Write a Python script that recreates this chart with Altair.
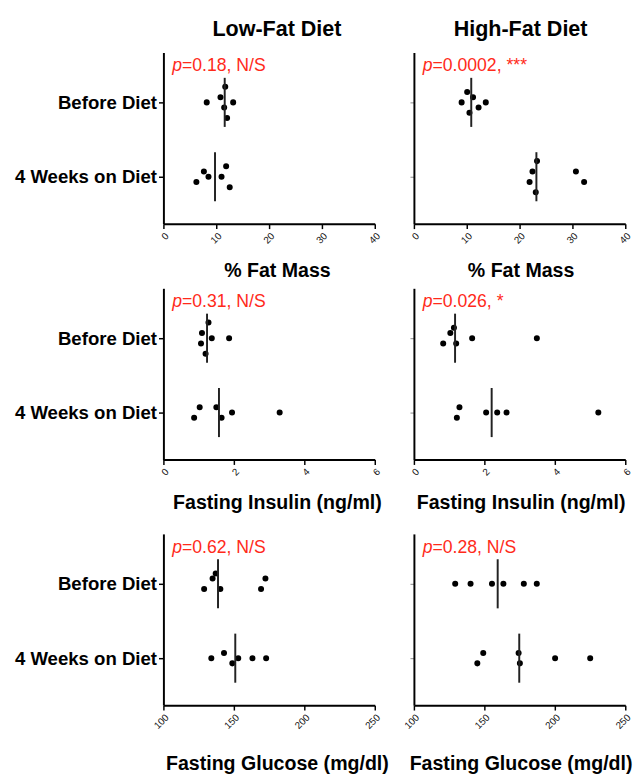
import altair as alt
import pandas as pd

groups = ["Before Diet", "4 Weeks on Diet"]
diets = ["Low-Fat Diet", "High-Fat Diet"]
measures = ["% Fat Mass", "Fasting Insulin (ng/ml)", "Fasting Glucose (mg/dl)"]
x_domains = [[0, 40], [0, 6], [100, 250]]
x_ticks = [[0, 10, 20, 30, 40], [0, 2, 4, 6], [100, 150, 200, 250]]
p_rest = [["=0.18, N/S", "=0.0002, ***"],
          ["=0.31, N/S", "=0.026, *"],
          ["=0.62, N/S", "=0.28, N/S"]]

# % Fat Mass
lf_fat_before = [11.7, 10.8, 8.2, 13.2, 11.5, 12.05]
lf_fat_before_lvl = [-3, -1, 0, 0, 1, 3]
lf_fat_after = [7.66, 11.87, 8.53, 11.0, 6.24, 12.55]
lf_fat_after_lvl = [-1, -2, 0, 0, 1, 2]
hf_fat_before = [9.03, 10.08, 11.19, 10.51, 12.24, 13.6]
hf_fat_before_lvl = [0, -2, -1, 2, 1, 0]
hf_fat_after = [23.3, 22.44, 21.89, 23.06, 30.66, 32.21]
hf_fat_after_lvl = [-3, -1, 1, 3, -1, 1]

# Fasting insulin
lf_ins_before = [1.28, 1.095, 1.373, 1.865, 1.067, 1.197]
lf_ins_before_lvl = [-3, -1, 0, 0, 1, 3]
lf_ins_after = [1.03, 1.503, 0.872, 1.651, 1.948, 3.30]
lf_ins_after_lvl = [-1, -1, 1, 1, 0, 0]
hf_ins_before = [1.136, 1.034, 1.653, 3.49, 0.831, 1.20]
hf_ins_before_lvl = [-2, -1, 0, 0, 1, 1]
hf_ins_after = [1.293, 1.219, 2.05, 2.364, 2.63, 5.235]
hf_ins_after_lvl = [-1, 1, 0, 0, 0, 0]

# Fasting glucose
lf_glu_before = [137.1, 134.9, 128.9, 140.4, 172.4, 169.3]
lf_glu_before_lvl = [-2, -1, 1, 1, -1, 1]
lf_glu_after = [134.0, 143.0, 148.9, 153.1, 163.2, 172.9]
lf_glu_after_lvl = [0, -1, 1, 0, 0, 0]
hf_glu_before = [129.3, 140.2, 155.4, 163.5, 178.0, 187.2]
hf_glu_before_lvl = [0, 0, 0, 0, 0, 0]
hf_glu_after = [149.2, 145.0, 174.3, 175.2, 200.2, 225.1]
hf_glu_after_lvl = [-1, 1, -1, 1, 0, 0]

series = [
    [(lf_fat_before, lf_fat_before_lvl, lf_fat_after, lf_fat_after_lvl),
     (hf_fat_before, hf_fat_before_lvl, hf_fat_after, hf_fat_after_lvl)],
    [(lf_ins_before, lf_ins_before_lvl, lf_ins_after, lf_ins_after_lvl),
     (hf_ins_before, hf_ins_before_lvl, hf_ins_after, hf_ins_after_lvl)],
    [(lf_glu_before, lf_glu_before_lvl, lf_glu_after, lf_glu_after_lvl),
     (hf_glu_before, hf_glu_before_lvl, hf_glu_after, hf_glu_after_lvl)],
]

W, H = 216, 175
FONT = "Liberation Sans"
RED = "#ff2a1a"
Y_DOMAIN = [0.368, 2.671]
STEP = 0.07
HALF = 0.33
TITLE_PAD = [16, 16, 24]


def panel(row, col):
    before, before_lvl, after, after_lvl = series[row][col]
    df = pd.DataFrame({
        "group": [groups[0]] * len(before) + [groups[1]] * len(after),
        "value": before + after,
        "level": before_lvl + after_lvl,
    })
    base = alt.Chart(df).transform_calculate(
        base=f"datum.group == '{groups[0]}' ? 2 : 1"
    )
    xscale = alt.Scale(domain=x_domains[row], nice=False, zero=False)
    yscale = alt.Scale(domain=Y_DOMAIN, nice=False, zero=False)
    if col == 0:
        yaxis = alt.Axis(values=[1, 2], title=None,
                         labelExpr=f"datum.value == 2 ? '{groups[0]}' : '{groups[1]}'",
                         labelFontSize=19, labelFontWeight="bold", labelColor="black",
                         labelPadding=2, tickSize=5)
    else:
        yaxis = alt.Axis(values=[1, 2], title=None, labels=False, tickSize=4,
                         tickColor="#888", tickWidth=1)
    xaxis = alt.Axis(values=x_ticks[row], labelAngle=-45, labelFontSize=10,
                     title=measures[row], titleFontSize=20, titleFontWeight="bold",
                     titlePadding=TITLE_PAD[row],
                     titleX=W / 2 + (8 if col == 0 else 1),
                     tickSize=5)
    pts = base.transform_calculate(
        ypos=f"datum.base - datum.level * {STEP}"
    ).mark_circle(size=38, color="black", opacity=1).encode(
        x=alt.X("value:Q", scale=xscale, axis=xaxis),
        y=alt.Y("ypos:Q", scale=yscale, axis=yaxis),
    )
    med = base.transform_aggregate(
        median="median(value)", groupby=["base"]
    ).transform_calculate(
        y1=f"datum.base - {HALF}", y2=f"datum.base + {HALF}"
    ).mark_rule(color="#222", strokeWidth=2).encode(
        x="median:Q", y="y1:Q", y2="y2:Q"
    )
    tdf = pd.DataFrame({"p": ["p"], "rest": [p_rest[row][col]]})
    p_it = alt.Chart(tdf).mark_text(
        align="left", baseline="alphabetic", fontSize=18, fontStyle="italic",
        font=FONT, color=RED
    ).encode(text="p:N", x=alt.value(9), y=alt.value(19))
    p_rt = alt.Chart(tdf).mark_text(
        align="left", baseline="alphabetic", fontSize=18, font=FONT, color=RED
    ).encode(text="rest:N", x=alt.value(19), y=alt.value(19))
    ch = alt.layer(pts, med, p_it, p_rt).properties(width=W, height=H)
    if row == 0:
        ch = ch.properties(title=alt.Title(
            diets[col], fontSize=22, fontWeight="bold", font=FONT, color="black",
            anchor="middle", baseline="bottom", offset=-10,
            dx=8 if col == 0 else 1))
    return ch


rows = [alt.hconcat(panel(r, 0), panel(r, 1), spacing=40, bounds="flush")
        for r in range(3)]
lower = alt.vconcat(rows[1], rows[2], spacing=21)
chart = alt.vconcat(rows[0], lower, spacing=8).properties(
    padding={"left": 14, "top": 10, "right": 5, "bottom": 5}
).configure_view(stroke=None).configure_axis(
    domainColor="black", domainWidth=2, tickColor="black", tickWidth=1.5,
    grid=False, labelColor="#111", labelFont=FONT, titleFont=FONT,
    titleColor="black"
)

chart.save("out.html", embed_options={"renderer": "svg", "actions": False})
